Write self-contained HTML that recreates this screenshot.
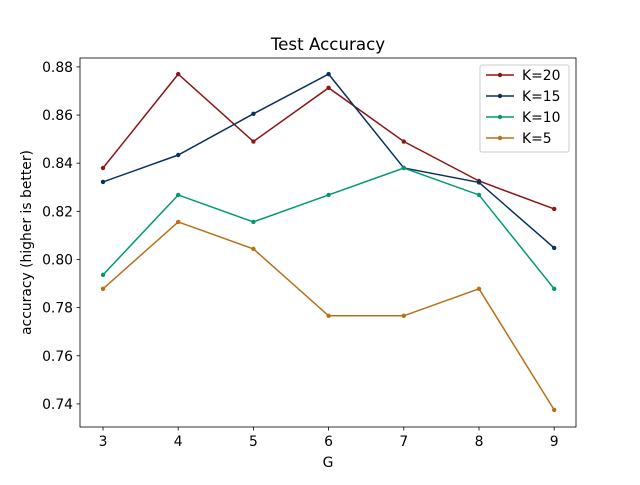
<!DOCTYPE html>
<html><head><meta charset="utf-8"><style>
body{margin:0;background:#fff;}
svg text{font-family:"DejaVu Sans","Liberation Sans",sans-serif;}
</style></head><body>
<svg id="chart" width="640" height="480" xmlns="http://www.w3.org/2000/svg">
<rect width="640" height="480" fill="#fff"/>
<g id="plot"></g>
</svg>
<script>
const categories=[3,4,5,6,7,8,9];
const seriesNames=["K=20","K=15","K=10","K=5"];
const k20=[0.838,0.877,0.849,0.8713,0.849,0.8326,0.821];
const k15=[0.8322,0.8434,0.8605,0.877,0.838,0.832,0.8048];
const k10=[0.7936,0.8268,0.8156,0.8268,0.838,0.8268,0.7878];
const k5=[0.7878,0.8156,0.8044,0.7766,0.7766,0.7878,0.7375];
const yTicks=[0.74,0.76,0.78,0.80,0.82,0.84,0.86,0.88];
const colors=["#8c1515","#0a3060","#009a70","#b87018"];
const L=80,R=576,T=58,B=427;
const xMin=2.694,xMax=9.29,yMin=0.7304,yMax=0.8837;
const xs=v=>L+(v-xMin)/(xMax-xMin)*(R-L);
const ys=v=>B-(v-yMin)/(yMax-yMin)*(B-T);
const NS="http://www.w3.org/2000/svg";
const g=document.getElementById('plot');
function mk(t,a,txt){const e=document.createElementNS(NS,t);for(const k in a)e.setAttribute(k,a[k]);if(txt!==undefined)e.textContent=txt;g.appendChild(e);return e;}
categories.forEach(c=>{const x=xs(c);
 const t=mk('line',{x1:x,x2:x,y1:B,y2:B+3.5,stroke:'#000','stroke-width':0.8});
 
 const l=mk('text',{x:x,y:B+19,'font-size':13.9,'text-anchor':'middle'},c);
 });
yTicks.forEach(v=>{const y=ys(v);
 const t=mk('line',{x1:L-3.5,x2:L,y1:y,y2:y,stroke:'#000','stroke-width':0.8});
 
 const l=mk('text',{x:L-7,y:y+5,'font-size':13.9,'text-anchor':'end'},v.toFixed(2));
 });
[k20,k15,k10,k5].forEach((s,i)=>{
 const pts=s.map((v,j)=>xs(categories[j])+','+ys(v)).join(' ');
 const pl=mk('polyline',{points:pts,fill:'none',stroke:colors[i],'stroke-width':1.5});
 
 s.forEach((v,j)=>{const c=mk('circle',{cx:xs(categories[j]),cy:ys(v),r:2.2,fill:colors[i]});
  });
});
const fr=mk('rect',{x:L,y:T,width:R-L,height:B-T,fill:'none',stroke:'#000','stroke-width':0.8});

const ti=mk('text',{x:(L+R)/2,y:T-8,'font-size':16.7,'text-anchor':'middle'},'Test Accuracy');

const xt=mk('text',{x:(L+R)/2,y:B+40,'font-size':13.9,'text-anchor':'middle'},'G');

const yt=mk('text',{x:0,y:0,'font-size':13.9,'text-anchor':'middle',transform:`translate(31,${(T+B)/2}) rotate(-90)`},'accuracy (higher is better)');

const lg=mk('rect',{x:480,y:65,width:89,height:87,fill:'#fff',stroke:'#ccc','stroke-width':1,rx:2});

seriesNames.forEach((n,i)=>{const y=75+i*21;
 const ln=mk('line',{x1:486,x2:514,y1:y,y2:y,stroke:colors[i],'stroke-width':1.5});
 
 const c=mk('circle',{cx:500,cy:y,r:2.2,fill:colors[i]});
 
 const t=mk('text',{x:522,y:y+5,'font-size':13.9},n);
 });
</script>
</body></html>
